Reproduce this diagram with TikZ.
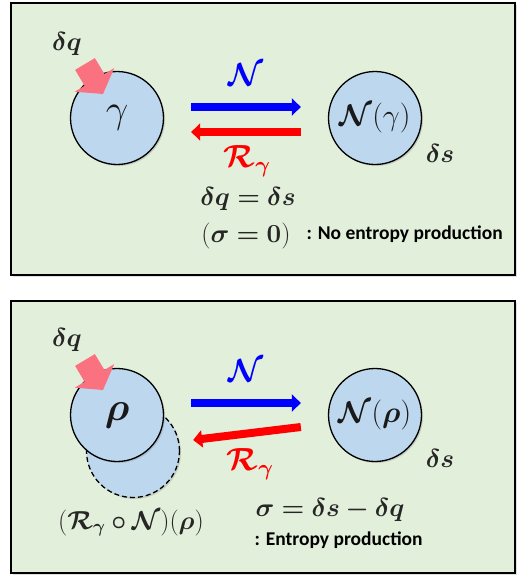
\RequirePackage{fix-cm}
\documentclass[tikz,border=0pt]{standalone}
\usepackage{amsmath,bm}
\usepackage{fontspec}
\newfontfamily\notefont{Carlito}[BoldFont={Carlito Bold}]
\usetikzlibrary{arrows.meta,shadows}
\definecolor{panelgreen}{HTML}{E2EFDA}
\definecolor{statefill}{HTML}{BDD7EE}
\definecolor{heatpink}{HTML}{FA7280}
\tikzset{
  panel/.style={draw=black,line width=1.3pt,fill=panelgreen,
    drop shadow={shadow xshift=2pt,shadow yshift=-2pt,opacity=0.25}},
  state/.style={circle,draw=black,line width=1.3pt,fill=statefill,
    minimum size=93pt,inner sep=0pt,text=black!90,
    drop shadow={shadow xshift=1.5pt,shadow yshift=-1.5pt,opacity=0.3}},
  fwd/.style={draw=blue,line width=8pt,-{Triangle[length=9pt,width=17pt]}},
  bwd/.style={draw=red,line width=8pt,-{Triangle[length=9pt,width=17pt]}},
  eq/.style={text=black!85,font=\fontsize{26}{30}\selectfont},
  chan/.style={font=\fontsize{32}{36}\selectfont},
  note/.style={anchor=west,font=\notefont\bfseries\fontsize{19.5}{22}\selectfont}
}
\begin{document}
\begin{tikzpicture}[x=1pt,y=-1pt]
\useasboundingbox (0,0) rectangle (531,579);
% the two panels
\draw[panel] (11,3) rectangle (515,275);
\draw[panel] (11,301) rectangle (515,573);
% top: equilibrium state
\node[state,font=\fontsize{40}{44}\selectfont] (g) at (117,118) {$\gamma$};
\node[state,font=\fontsize{30}{34}\selectfont] (ng) at (375,118) {$\bm{\mathcal{N}}(\gamma)$};
\draw[fwd] ([xshift=27pt,yshift=11pt]g.east) -- ([xshift=-27pt,yshift=11pt]ng.west);
\draw[bwd] ([xshift=-27pt,yshift=-14pt]ng.west) -- ([xshift=27pt,yshift=-14pt]g.east);
\node[chan,text=blue] (nlab) at (246,75) {$\bm{\mathcal{N}}$};
\node[chan,text=red] (rlab) at (247,161) {$\bm{\mathcal{R}_\gamma}$};
\node[eq] (dq) at (67,44) {$\bm{\delta q}$};
\node[eq] (ds) at (440,153) {$\bm{\delta s}$};
\node[eq] (bal) at (248,199) {$\bm{\delta q = \delta s}$};
\node[eq] (sig) at (246,236) {$(\bm{\sigma = 0})$};
\node[note] (nonote) at (303,234) {: No entropy production};
% bottom: general state
\node[state,dash pattern=on 5pt off 3pt] (back) at (133,451) {};
\node[state,font=\fontsize{40}{44}\selectfont] (r) at (117,415) {$\bm{\rho}$};
\node[state,font=\fontsize{30}{34}\selectfont] (nr) at (375,415) {$\bm{\mathcal{N}}(\bm{\rho})$};
\draw[fwd] ([xshift=27pt,yshift=12pt]r.east) -- ([xshift=-27pt,yshift=12pt]nr.west);
\draw[bwd] ([xshift=-27pt,yshift=-12pt]nr.west) -- ([xshift=29pt,yshift=-25pt]r.east);
\node[chan,text=blue] (nlab2) at (246,371) {$\bm{\mathcal{N}}$};
\node[chan,text=red] (rlab2) at (250,464) {$\bm{\mathcal{R}_\gamma}$};
\node[eq] (dq2) at (67,340) {$\bm{\delta q}$};
\node[eq] (ds2) at (440,458) {$\bm{\delta s}$};
\node[eq] (comp) at (131,523) {$(\bm{\mathcal{R}_\gamma\circ\mathcal{N}})(\bm{\rho})$};
\node[eq] (prod) at (330,510) {$\bm{\sigma = \delta s - \delta q}$};
\node[note] (epnote) at (251,540) {: Entropy production};
% heat flowing in
\foreach \dy in {0,296}
  \fill[heatpink,shift={(0,\dy)}] (94.9,58.1) -- (104.4,74) -- (114.2,68.1) -- (103,94)
    -- (74.8,91.7) -- (84.6,85.8) -- (75.1,69.9) -- cycle;
\end{tikzpicture}
\end{document}
